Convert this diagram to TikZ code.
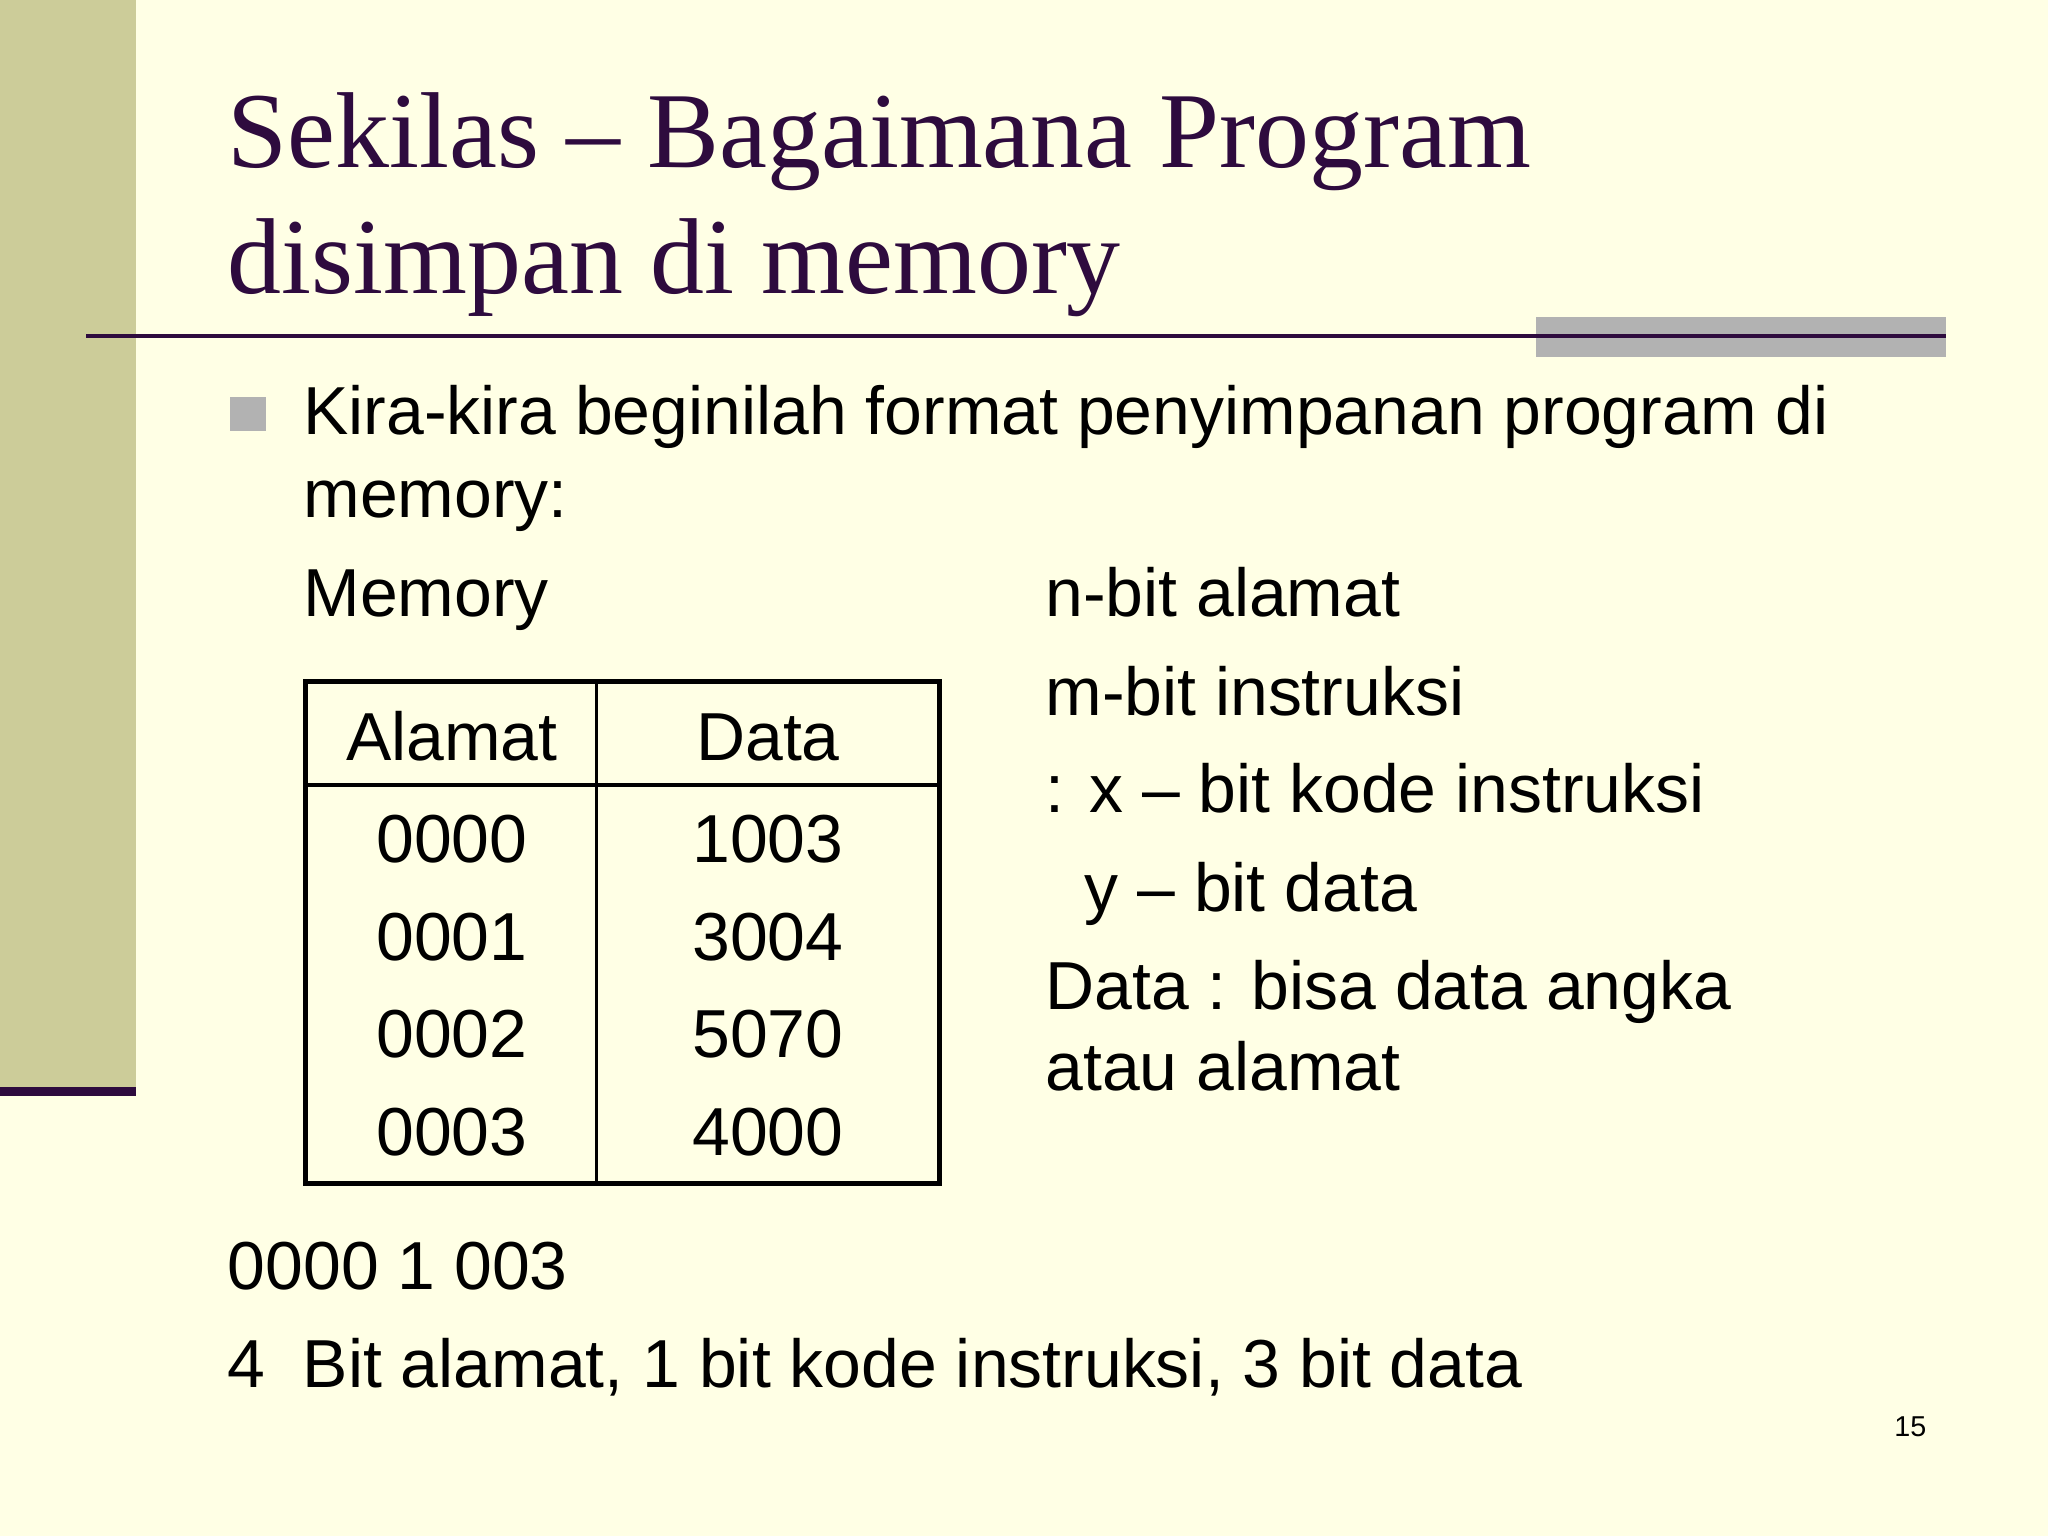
\documentclass[tikz,border=0pt]{standalone}
\usepackage{fontspec}
\setmainfont{Liberation Sans}
\newfontfamily\titlefont{Liberation Serif}
\definecolor{bgc}{HTML}{FFFFE5}
\definecolor{barc}{HTML}{CCCC99}
\definecolor{purp}{HTML}{2E0B3E}
\definecolor{grayb}{HTML}{B2B2B2}
\begin{document}
\begin{tikzpicture}[x=0.5pt,y=-0.5pt,
  txt/.style={anchor=base west,inner sep=0pt,font=\fontsize{26}{30}\selectfont},
  cell/.style={anchor=base,inner sep=0pt,font=\fontsize{26}{30}\selectfont},
  ttl/.style={anchor=base west,inner sep=0pt,text=purp,font=\titlefont\fontsize{41.3}{50}\selectfont}]
\fill[bgc] (0,0) rectangle (1568,1176);
\useasboundingbox (0,0) rectangle (1568,1176);
\fill[barc] (0,0) rectangle (104,835);
\fill[purp] (0,832) rectangle (104,839);
\fill[grayb] (1176,243) rectangle (1490,273);
\draw[purp,line width=1.6pt] (66,257) -- (1490,257);
\node[ttl] (t1) at (174,128) {Sekilas – Bagaimana Program};
\node[ttl] (t2) at (174,225) {disimpan di memory};
\fill[grayb] (176,304) rectangle (204,330);
\node[txt] (l1) at (232,333) {Kira-kira beginilah format penyimpanan program di};
\node[txt] (l2) at (232,396) {memory:};
\node[txt] (mem) at (232,472) {Memory};
\node[txt] (r1) at (800,472) {n-bit alamat};
\node[txt] (r2) at (800,548) {m-bit instruksi};
\node[txt] (r3) at (800,622) {: x – bit kode instruksi};
\node[txt] (r4) at (830,698) {y – bit data};
\node[txt] (r5) at (800,773) {Data : bisa data angka};
\node[txt] (r6) at (800,835) {atau alamat};
\draw[line width=2pt] (234,522) rectangle (719,906);
\draw[line width=1.2pt] (457,522) -- (457,906);
\draw[line width=1.2pt] (234,601) -- (719,601);
\node[cell] (h1) at (346,582) {Alamat};
\node[cell] (h2) at (588,582) {Data};
\node[cell] (a1) at (346,660) {0000};
\node[cell] (d1) at (588,660) {1003};
\node[cell] (a2) at (346,735) {0001};
\node[cell] (d2) at (588,735) {3004};
\node[cell] (a3) at (346,810) {0002};
\node[cell] (d3) at (588,810) {5070};
\node[cell] (a4) at (346,885) {0003};
\node[cell] (d4) at (588,885) {4000};
\node[txt] (b1) at (174,987) {0000 1 003};
\node[txt] (b2) at (174,1062) {4\hspace{0.55em}Bit alamat, 1 bit kode instruksi, 3 bit data};
\node[anchor=base west,inner sep=0pt,font=\fontsize{11}{13}\selectfont] (pg) at (1450,1100) {15};
\end{tikzpicture}
\end{document}
